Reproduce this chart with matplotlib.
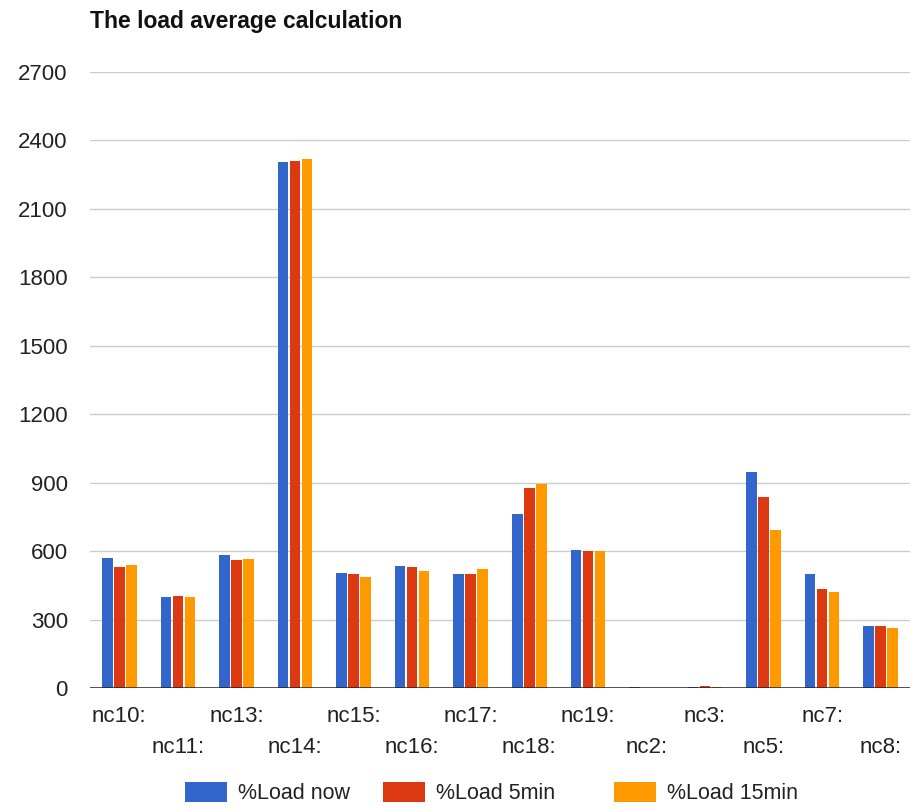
import numpy as np
import matplotlib
matplotlib.use("Agg")
import matplotlib.pyplot as plt
from matplotlib.patches import Patch

plt.rcParams['font.family'] = ['Liberation Sans', 'DejaVu Sans']

# Data
hosts = ["nc10:", "nc11:", "nc13:", "nc14:", "nc15:", "nc16:", "nc17:",
         "nc18:", "nc19:", "nc2:", "nc3:", "nc5:", "nc7:", "nc8:"]
load_now = [568, 397, 581, 2305, 505, 536, 498, 761, 604, 3, 5, 948, 498, 271]
load_5min = [530, 405, 559, 2312, 498, 530, 498, 878, 600, 2, 10, 837, 435, 271]
load_15min = [537, 397, 565, 2320, 487, 515, 522, 893, 600, 1, 6, 691, 420, 261]
series_names = ["%Load now", "%Load 5min", "%Load 15min"]
y_ticks = [0, 300, 600, 900, 1200, 1500, 1800, 2100, 2400, 2700]

colors = ["#3366cc", "#dc3912", "#ff9900"]

W, H = 918, 807
fig = plt.figure(figsize=(W / 100, H / 100), dpi=100)
ax = fig.add_axes([90 / W, 1 - 688 / H, 820 / W, (688 - 72) / H])

x = np.arange(len(hosts))
step = 0.205
width = 0.18
for k, (vals, c) in enumerate(zip([load_now, load_5min, load_15min], colors)):
    ax.bar(x + (k - 1) * step, vals, width=width, color=c, zorder=3)

ax.set_xlim(-0.5, len(hosts) - 0.5)
ax.set_ylim(0, 2700)
ax.set_yticks(y_ticks)
ax.set_yticklabels([str(v) for v in y_ticks])
ax.grid(axis='y', color='#cccccc', lw=1, zorder=0)
ax.axhline(0, color='#222222', lw=1.8, zorder=4)

for s in ax.spines.values():
    s.set_visible(False)

# Two staggered rows of category labels
even = x[::2]
odd = x[1::2]
ax.set_xticks(even)
ax.set_xticklabels(hosts[::2])
ax.set_xticks(odd, minor=True)
ax.set_xticklabels(hosts[1::2], minor=True)
ax.tick_params(axis='x', which='major', length=0, pad=13, labelsize=16, labelcolor='#222222')
ax.tick_params(axis='x', which='minor', length=0, pad=35, labelsize=16, labelcolor='#222222')
ax.tick_params(axis='y', length=0, pad=16, labelsize=16, labelcolor='#222222')

fig.text(90 / W, 1 - 28 / H, "The load average calculation", fontsize=16.5,
         fontweight='bold', color='#111111', ha='left', va='baseline')

# Legend entries laid out at fixed horizontal positions
legend_x = [185, 383, 614]
for name, c, lx in zip(series_names, colors, legend_x):
    leg = fig.legend([Patch(facecolor=c, edgecolor='none')], [name],
                     loc='center left', frameon=False,
                     bbox_to_anchor=(lx / W, 1 - 793 / H), fontsize=15.5,
                     handlelength=1.95, handleheight=1.1, handletextpad=0.5,
                     borderpad=0, borderaxespad=0, labelcolor='#222222')

fig.savefig("out.png", dpi=100)
